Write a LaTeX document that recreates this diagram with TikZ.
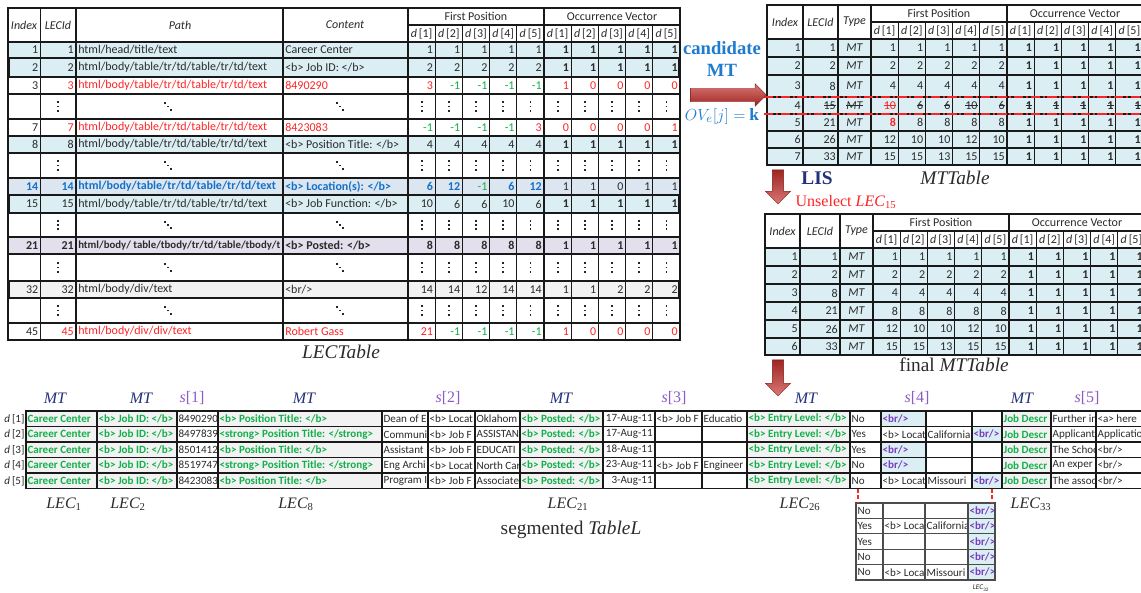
\documentclass[tikz,border=0pt]{standalone}
\usepackage{fontspec}
\setmainfont{Carlito}
\newfontfamily\romana{Liberation Serif}
\usepackage{tikz}
\usetikzlibrary{shapes.arrows}
\definecolor{celda}{HTML}{DAEEF3}
\definecolor{celdaazul}{HTML}{DCE6F1}
\definecolor{celdalila}{HTML}{E4DFEC}
\definecolor{celdagris}{HTML}{F2F2F2}
\definecolor{tinta}{HTML}{2B2B2B}
\definecolor{rojo}{HTML}{FF2424}
\definecolor{verde}{HTML}{12B04A}
\definecolor{azul}{HTML}{1570C8}
\definecolor{cielo}{HTML}{1E7BD0}
\definecolor{marino}{HTML}{23307A}
\definecolor{violeta}{HTML}{8C5CC4}
\definecolor{morado}{HTML}{7A3CC0}
\definecolor{flecha}{HTML}{C62E2A}

\newcommand{\rj}[1]{{\color{rojo}#1}}
\newcommand{\vd}[1]{{\mdseries\color{verde}#1}}
\newcommand{\gru}[1]{\textbf{#1}}
\newcommand{\nrm}[1]{{\mdseries\color{tinta}#1}}
\newcommand{\dd}[1]{{\itshape d}\,[#1]}
\newcommand{\brv}{\textcolor{morado}{\textbf{<br/>}}}
\newsavebox{\cajatachada}
\newcommand{\tachado}[1]{\sbox{\cajatachada}{#1}\rlap{\rule[0.3em]{\wd\cajatachada}{0.6pt}}\usebox{\cajatachada}}

% una fila de LECTable
\newcommand{\fila}[9]{%
  \fill[#3] (8,#1) rectangle (680,#2);
  \begin{scope}[every node/.append style={#4}]
    \node[num] (ind-#1) at (40.5,{(#1+#2)/2}) {#5};
    \node[num] (lec-#1) at (76,{(#1+#2)/2}) {#6};
    \begin{scope}
      \clip (76,#1) rectangle (283,#2);
      \node[txt] (ruta-#1) at (76,{(#1+#2)/2}) {#7};
    \end{scope}
    \node[txt] (cont-#1) at (283,{(#1+#2)/2}) {#8};
    \foreach \val [count=\ic] in {#9}
      \node[num] (v-#1-\ic) at ({408+27.2*\ic},{(#1+#2)/2}) {\val};
  \end{scope}}
% fila de puntos
\newcommand{\puntos}[2]{%
  \pic (pl-#1) at (58,{(#1+#2)/2}) {pverti};
  \pic (pr-#1) at (168,{(#1+#2)/2}) {pdiag};
  \pic (pc-#1) at (340,{(#1+#2)/2}) {pdiag};
  \foreach \ic in {1,...,10}
    \pic (pv-#1-\ic) at ({394.4+27.2*\ic},{(#1+#2)/2}) {pverti};}
% una fila de MTTable
\newcommand{\filamt}[6]{%
  \fill[celda] (\mtx,#1) rectangle (1145,#2);
  \node[num] (mi-#1) at (\mtl,{(#1+#2)/2}) {#3};
  \node[num] (ml-#1) at (\mtt,{(#1+#2)/2}) {#4};
  \node[cab] (mt-#1) at ({(\mtt+\mtf)/2},{(#1+#2)/2}) {#5};
  \foreach \val [count=\ic] in {#6}
    \node[num] (mv-#1-\ic) at ({\mtf+27.2*\ic},{(#1+#2)/2}) {\val};}
% rejilla y cabecera de MTTable
\newcommand{\marcomt}[5]{%
  \foreach \y in {#3,#5} \draw[rejilla] (\mtx,\y) -- (1145,\y);
  \draw[rejilla] (\mtf,#2) -- (1145,#2);
  \draw[rejilla] (\mtx,#1) rectangle (1145,#4);
  \foreach \x in {\mtl,\mtt,\mtf} \draw[rejilla] (\x,#1) -- (\x,#4);
  \draw[rejilla] ({\mtf+136},#1) -- ({\mtf+136},#4);
  \foreach \ic in {1,...,9} \draw[rejilla] ({\mtf+27.2*\ic},#2) -- ({\mtf+27.2*\ic},#4);
  \node[cab] (mh-#1-ind) at ({(\mtx+\mtl)/2},{(#1+#3)/2}) {Index};
  \node[cab] (mh-#1-lec) at ({(\mtl+\mtt)/2},{(#1+#3)/2}) {LECId};
  \node[cab] (mh-#1-tipo) at ({(\mtt+\mtf)/2},{(#1+#3)/2}) {Type};
  \node[cabn] (mh-#1-fp) at ({\mtf+68},{(#1+#2)/2}) {First Position};
  \node[cabn] (mh-#1-ov) at ({\mtf+204},{(#1+#2)/2}) {Occurrence Vector};
  \foreach \kk in {1,...,5} \foreach \desp in {0,136}
    \node[cabn] (mh-#1-\kk-\desp) at ({\mtf+\desp+27.2*\kk-13.6},{(#2+#3)/2}) {\dd{\kk}};}
% una columna de TableL
\newcommand{\columna}[4]{%
  \foreach \texto [count=\nf] in {#4} {
    \begin{scope}
      \clip (#1,{\ytab+\alto*(\nf-1)}) rectangle (#2,{\ytab+\alto*\nf});
      \node[#3] (c-#1-\nf) at (#1,{\ytab+\alto*(\nf-0.5)}) {\texto};
    \end{scope}}}

\begin{document}
\begin{tikzpicture}[
  x=0.75pt, y=-0.75pt, text=tinta,
  rejilla/.style={draw=black!90, line width=0.9pt},
  marco/.style={draw=black!90, line width=1.6pt},
  num/.style={anchor=east, inner sep=1.5pt, font=\fontsize{9}{10}\selectfont},
  txt/.style={anchor=west, inner sep=1.5pt, font=\fontsize{9}{10}\selectfont},
  cab/.style={inner sep=0pt, font=\fontsize{9}{10}\selectfont\itshape},
  cabn/.style={inner sep=0pt, font=\fontsize{9}{10}\selectfont},
  pverti/.pic={\foreach \d in {-1,0,1} \fill[black!85] (-0.9,{4.3*\d-0.9}) rectangle (0.9,{4.3*\d+0.9});},
  pdiag/.pic={\foreach \d in {-1,0,1} \fill[black!85] ({3.2*\d-0.9},{3.2*\d-0.9}) rectangle ({3.2*\d+0.9},{3.2*\d+0.9});},
  plano/.style={anchor=west, inner sep=1pt, font=\fontsize{8.3}{9}\selectfont},
  verdec/.style={plano, text=verde, font=\fontsize{8.3}{9}\selectfont\bfseries},
  fecha/.style={plano, text width=36pt, align=right},
  titulo/.style={font=\romana\fontsize{14.5}{16}\selectfont},
  lecpie/.style={font=\romana\fontsize{12}{14}\selectfont\itshape},
  tipomt/.style={text=marino, font=\romana\fontsize{12}{14}\selectfont\itshape},
  tipos/.style={text=violeta, font=\romana\fontsize{12}{14}\selectfont},
  tachon/.style={rojo, line width=1pt, dash pattern=on 7pt off 2pt on 1.5pt off 2pt},
  enlace/.style={rojo, line width=1pt, dash pattern=on 3pt off 2pt},
  flechagorda/.style={single arrow, inner xsep=0pt, draw=flecha!60!black, line width=0.3pt}]
  \useasboundingbox (0,0) rectangle (1141,592);
  \clip (0,0) rectangle (1141,592);
  \fill[white] (0,0) rectangle (1141,592);

  % LECTable
  \fila{42}{58}{celda}{}{1}{1}{html/head/title/text}{Career Center}{1,1,1,1,1,\gru1,\gru1,\gru1,\gru1,\gru1}
  \fila{58}{77}{celda}{}{2}{2}{html/body/table/tr/td/table/tr/td/text}{<b> Job ID: </b>}{2,2,2,2,2,\gru1,\gru1,\gru1,\gru1,\gru1}
  \fila{77}{94}{white}{}{3}{\rj3}{\rj{html/body/table/tr/td/table/tr/td/text}}{\rj{8490290}}{\rj3,\vd{-1},\vd{-1},\vd{-1},\vd{-1},\rj1,\rj0,\rj0,\rj0,\rj0}
  \puntos{94}{119}
  \fila{119}{136}{white}{}{7}{\rj7}{\rj{html/body/table/tr/td/table/tr/td/text}}{\rj{8423083}}{\vd{-1},\vd{-1},\vd{-1},\vd{-1},\rj3,\rj0,\rj0,\rj0,\rj0,\rj1}
  \fila{136}{153}{celda}{}{8}{8}{html/body/table/tr/td/table/tr/td/text}{<b> Position Title: </b>}{4,4,4,4,4,\gru1,\gru1,\gru1,\gru1,\gru1}
  \puntos{153}{178}
  \fila{178}{195}{celdaazul}{text=azul, execute at begin node=\bfseries}{14}{14}{html/body/table/tr/td/table/tr/td/text}{<b> Location(s): </b>}{6,12,\vd{-1},6,12,\nrm1,\nrm1,\nrm0,\nrm1,\nrm1}
  \fila{195}{213}{celda}{}{15}{15}{html/body/table/tr/td/table/tr/td/text}{<b> Job Function: </b>}{10,6,6,10,6,\gru1,\gru1,\gru1,\gru1,\gru1}
  \puntos{213}{237}
  \fila{237}{254}{celdalila}{execute at begin node=\bfseries}{21}{21}{\fontsize{8.1}{9}\selectfont html/body/ table/tbody/tr/td/table/tbody/t}{<b> Posted: </b>}{8,8,8,8,8,1,1,1,1,1}
  \puntos{254}{281}
  \fila{281}{298}{celdagris}{}{32}{32}{html/body/div/text}{<br/>}{14,14,12,14,14,1,1,2,2,2}
  \puntos{298}{323}
  \fila{323}{340}{white}{}{45}{\rj{45}}{\rj{html/body/div/div/text}}{\rj{Robert Gass}}{\rj{21},\vd{-1},\vd{-1},\vd{-1},\vd{-1},\rj1,\rj0,\rj0,\rj0,\rj0}
  \draw[rejilla] (8,8) rectangle (680,340);
  \foreach \x in {40.5,76,283,408,544} \draw[rejilla] (\x,8) -- (\x,340);
  \foreach \ic in {1,2,3,4,6,7,8,9} \draw[rejilla] ({408+27.2*\ic},25) -- ({408+27.2*\ic},340);
  \draw[rejilla] (408,25) -- (680,25);
  \foreach \y in {42,58,77,94,119,136,153,178,195,213,237,254,281,298,323}
    \draw[rejilla] (8,\y) -- (680,\y);
  \foreach \a/\b in {58/77,195/213,281/298} \draw[marco] (8.5,\a) rectangle (679.5,\b);
  \node[cab] (h-ind) at (24,25) {Index};
  \node[cab] (h-lec) at (58,25) {LECId};
  \node[cab] (h-ruta) at (180,25) {Path};
  \node[cab] (h-cont) at (345,25) {Content};
  \node[cabn] (h-fp) at (476,16.5) {First Position};
  \node[cabn] (h-ov) at (612,16.5) {Occurrence Vector};
  \foreach \kk in {1,...,5} \foreach \desp in {0,136}
    \node[cabn] (h-d-\kk-\desp) at ({394.4+\desp+27.2*\kk},33.5) {\dd{\kk}};
  \node[titulo, font=\romana\fontsize{14.5}{16}\selectfont\itshape] (t-lec) at (341,352) {LECTable};

  % MTTable
  \def\mtx{767}\def\mtl{803}\def\mtt{838}\def\mtf{871}
  \filamt{39}{57}{1}{1}{MT}{1,1,1,1,1,\gru1,\gru1,\gru1,\gru1,\gru1}
  \filamt{57}{75}{2}{2}{MT}{2,2,2,2,2,\gru1,\gru1,\gru1,\gru1,\gru1}
  \filamt{75}{97}{3}{8}{MT}{4,4,4,4,4,\gru1,\gru1,\gru1,\gru1,\gru1}
  \filamt{97}{114}{4}{\tachado{15}}{\tachado{MT}}{\rj{\tachado{10}},\tachado{6},\tachado{6},\tachado{10},\tachado{6},\tachado{\gru1},\tachado{\gru1},\tachado{\gru1},\tachado{\gru1},\tachado{\gru1}}
  \filamt{114}{131}{5}{21}{MT}{\rj{\gru8},8,8,8,8,\gru1,\gru1,\gru1,\gru1,\gru1}
  \filamt{131}{148}{6}{26}{MT}{12,10,10,12,10,\gru1,\gru1,\gru1,\gru1,\gru1}
  \filamt{148}{165}{7}{33}{MT}{15,15,13,15,15,\gru1,\gru1,\gru1,\gru1,\gru1}
  \marcomt{5}{22}{39}{165}{57,75,97,114,131,148}
  \draw[tachon] (764,97) -- (1145,97);
  \draw[tachon] (764,114) -- (1145,114);
  \node[titulo, font=\romana\fontsize{14.5}{16}\selectfont\itshape] (t-mt) at (955,178) {MTTable};

  % final MTTable
  \def\mtx{765}\def\mtl{800}\def\mtt{840}\def\mtf{873}
  \filamt{248}{266}{1}{1}{MT}{1,1,1,1,1,\gru1,\gru1,\gru1,\gru1,\gru1}
  \filamt{266}{284}{2}{2}{MT}{2,2,2,2,2,\gru1,\gru1,\gru1,\gru1,\gru1}
  \filamt{284}{302}{3}{8}{MT}{4,4,4,4,4,\gru1,\gru1,\gru1,\gru1,\gru1}
  \filamt{302}{320}{4}{21}{MT}{8,8,8,8,8,\gru1,\gru1,\gru1,\gru1,\gru1}
  \filamt{320}{338}{5}{26}{MT}{12,10,10,12,10,\gru1,\gru1,\gru1,\gru1,\gru1}
  \filamt{338}{355}{6}{33}{MT}{15,15,13,15,15,\gru1,\gru1,\gru1,\gru1,\gru1}
  \marcomt{214}{231}{248}{355}{266,284,302,320,338}
  \node[titulo] (t-final) at (954,365) {final \itshape MTTable};

  % flechas y rotulos
  \node[flechagorda, minimum height=57pt, inner ysep=4.9pt, single arrow head extend=3.4pt,
    top color=flecha!65!white, bottom color=flecha!80!black] (f-der) at (725,95) {};
  \node[flechagorda, rotate=-90, minimum height=25.5pt, inner ysep=4.1pt, single arrow head extend=5.2pt,
    top color=flecha!80!black, bottom color=flecha!65!white] (f-lis) at (778,184) {};
  \node[flechagorda, rotate=-90, minimum height=27pt, inner ysep=4.1pt, single arrow head extend=5.2pt,
    top color=flecha!80!black, bottom color=flecha!65!white] (f-seg) at (778,375) {};
  \node[text=cielo, font=\romana\fontsize{14}{16}\selectfont\bfseries] (cand) at (722,48) {candidate};
  \node[text=cielo, font=\romana\fontsize{14}{16}\selectfont\bfseries] (cand-mt) at (722,70) {MT};
  \node[text=cielo, font=\fontsize{13}{15}\selectfont] (ove) at (722,116) {$OV_e[j]=$ {\romana\bfseries k}};
  \node[text=marino, font=\romana\fontsize{14.5}{16}\selectfont\bfseries] (lis) at (817,178) {LIS};
  \node[text=rojo, font=\romana\fontsize{12}{14}\selectfont] (unsel) at (846,202) {Unselect \itshape LEC\textsubscript{\upshape 15}};

  % segmented TableL
  \def\ytab{411}\def\alto{15.5}
  \foreach \a/\b in {26/97,97/177,218/382,520/603,747/850,1002/1051}
    \fill[celdagris] (\a,411) rectangle (\b,488.5);
  \foreach \a/\b/\nf in {881/926/1,881/926/3,881/926/4,972/1002/2,972/1002/5}
    \fill[celda] (\a,{395.5+15.5*\nf}) rectangle (\b,{411+15.5*\nf});
  \columna{26}{97}{verdec}{Career Center,Career Center,Career Center,Career Center,Career Center}
  \columna{97}{177}{verdec}{<b> Job ID: </b>,<b> Job ID: </b>,<b> Job ID: </b>,<b> Job ID: </b>,<b> Job ID: </b>}
  \columna{177}{218}{plano}{8490290,8497839,8501412,8519747,8423083}
  \columna{218}{382}{verdec}{<b> Position Title: </b>,<strong> Position Title: </strong>,<b> Position Title: </b>,<strong> Position Title: </strong>,<b> Position Title: </b>}
  \columna{382}{428}{plano}{Dean of E,Communi,Assistant,Eng Archi,Program I}
  \columna{428}{475}{plano}{<b> Locat,<b> Job F,<b> Job F,<b> Locat,<b> Job F}
  \columna{475}{520}{plano}{Oklahom,ASSISTAN,EDUCATI,North Car,Associate}
  \columna{520}{603}{verdec}{<b> Posted: </b>,<b> Posted: </b>,<b> Posted: </b>,<b> Posted: </b>,<b> Posted: </b>}
  \columna{603}{655}{fecha}{17-Aug-11,17-Aug-11,18-Aug-11,23-Aug-11,3-Aug-11}
  \columna{655}{702}{plano}{<b> Job F,{},{},<b> Job F,{}}
  \columna{702}{747}{plano}{Educatio,{},{},Engineer,{}}
  \columna{747}{850}{verdec}{<b> Entry Level: </b>,<b> Entry Level: </b>,<b> Entry Level: </b>,<b> Entry Level: </b>,<b> Entry Level: </b>}
  \columna{850}{881}{plano}{No,Yes,Yes,No,No}
  \columna{881}{926}{plano}{\brv,<b> Locat,\brv,\brv,<b> Locat}
  \columna{926}{972}{plano}{{},California,{},{},Missouri}
  \columna{972}{1002}{plano}{{},\brv,{},{},\brv}
  \columna{1002}{1051}{verdec}{Job Descr,Job Descr,Job Descr,Job Descr,Job Descr}
  \columna{1051}{1096}{plano}{Further in,Applicant,The Schoo,An exper,The assoc}
  \columna{1096}{1145}{plano}{<a> here,Applicatio,<br/>,<br/>,<br/>}
  \foreach \x in {26,97,177,218,382,428,475,520,603,655,702,747,850,881,926,972,1002,1051,1096}
    \draw[rejilla] (\x,411) -- (\x,488.5);
  \foreach \nf in {0,...,5} \draw[rejilla] (26,{411+15.5*\nf}) -- (1145,{411+15.5*\nf});
  \foreach \a/\b in {26/97,97/177,218/382,520/603,747/850,1002/1051}
    \draw[marco, line width=1.3pt] (\a,411) rectangle (\b,488.5);
  \foreach \nf in {1,...,5}
    \node[plano, anchor=east] (fila-d-\nf) at (26,{403.25+15.5*\nf}) {\dd{\nf}};
  \foreach \x [count=\nf] in {55,141,304,561,806,1022}
    \node[tipomt] (mt-cab-\nf) at (\x,398) {MT};
  \foreach \x [count=\nf] in {192,448,674,917,1087}
    \node[tipos] (s-cab-\nf) at (\x,398) {{\itshape s}[\nf]};
  \foreach \x/\kk in {64/1,128/2,296/8,568/21,800/26,1031/33}
    \node[lecpie] (lec-pie-\kk) at (\x,504) {LEC\textsubscript{\upshape\kk}};
  \node[titulo] (t-seg) at (571,530) {segmented \itshape TableL};

  % LEC32 alineado
  \def\ytab{503}\def\alto{15.4}
  \fill[celda] (968,503) rectangle (995,580);
  \columna{856}{883}{plano}{No,Yes,Yes,No,No}
  \columna{883}{925}{plano}{{},<b> Locat,{},{},<b> Locat}
  \columna{925}{968}{plano}{{},California,{},{},Missouri}
  \columna{968}{995}{plano}{\brv,\brv,\brv,\brv,\brv}
  \foreach \x in {883,925,968} \draw[rejilla, draw=black!70] (\x,503) -- (\x,580);
  \foreach \nf in {1,...,4} \draw[rejilla, draw=black!70] (856,{503+15.4*\nf}) -- (995,{503+15.4*\nf});
  \draw[rejilla, draw=black!70] (856,503) rectangle (995,580);
  \node[font=\fontsize{5.5}{6}\selectfont] (t-caja) at (981,588) {{\itshape LEC}\textsubscript{32}};
  \coordinate (seg-no) at (858,488.5);
  \coordinate (caja-no) at (858,503);
  \coordinate (seg-br) at (992,488.5);
  \coordinate (caja-br) at (992,503);
  \draw[enlace] (seg-no) -- (caja-no);
  \draw[enlace] (seg-br) -- (caja-br);
\end{tikzpicture}
\end{document}
